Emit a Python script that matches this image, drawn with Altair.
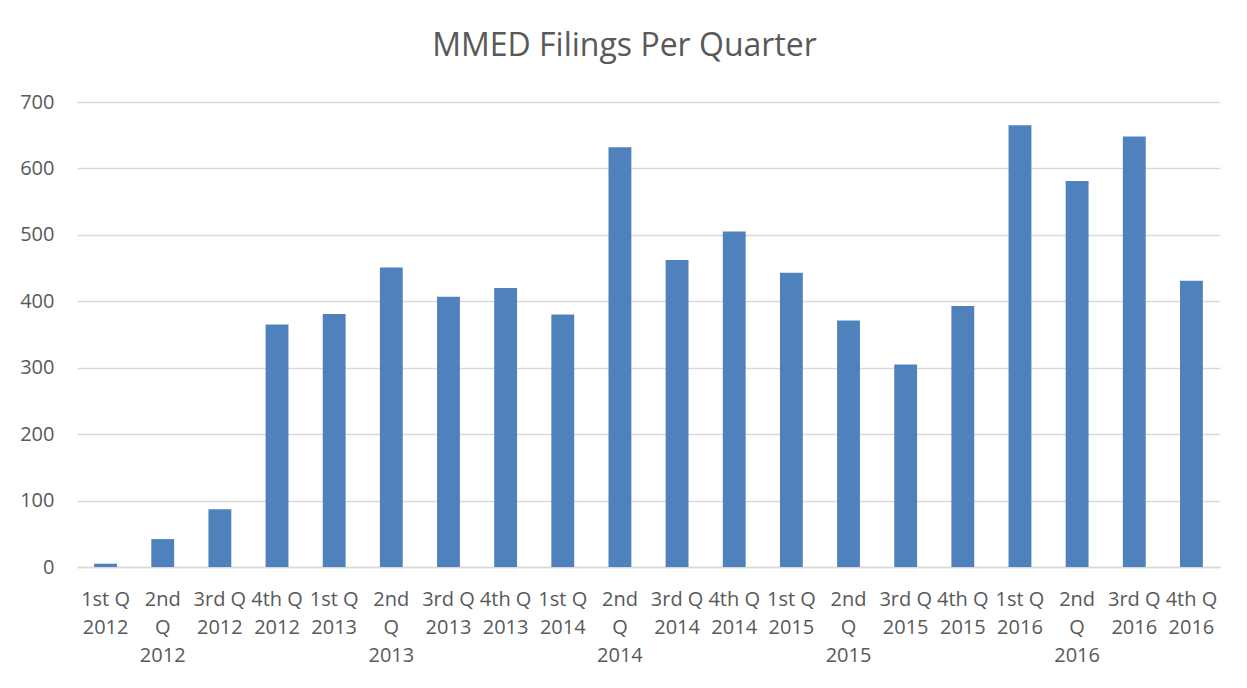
import altair as alt
import pandas as pd

quarters = ["1st Q 2012", "2nd Q 2012", "3rd Q 2012", "4th Q 2012",
            "1st Q 2013", "2nd Q 2013", "3rd Q 2013", "4th Q 2013",
            "1st Q 2014", "2nd Q 2014", "3rd Q 2014", "4th Q 2014",
            "1st Q 2015", "2nd Q 2015", "3rd Q 2015", "4th Q 2015",
            "1st Q 2016", "2nd Q 2016", "3rd Q 2016", "4th Q 2016"]
filings = [5, 42, 87, 365, 381, 451, 407, 420, 380, 632,
           462, 505, 443, 371, 305, 393, 665, 581, 648, 431]
y_ticks = [0, 100, 200, 300, 400, 500, 600, 700]

df = pd.DataFrame({"quarter": quarters, "filings": filings})

FONT = "Open Sans"
GREY = "#595959"

label_expr = ("indexof(datum.label, '2nd') == 0 ? split(datum.label, ' ') : "
              "[slice(datum.label, 0, 5), slice(datum.label, 6)]")

chart = alt.Chart(df).mark_bar(color="#4F81BD").encode(
    x=alt.X("quarter:N", sort=quarters, title=None,
            scale=alt.Scale(paddingInner=0.6, paddingOuter=0.3),
            axis=alt.Axis(labelAngle=0, labelExpr=label_expr, ticks=False,
                          domain=True, domainColor="#D9D9D9", domainWidth=1.5,
                          labelFont=FONT, labelFontSize=20, labelColor=GREY,
                          labelLineHeight=28, labelPadding=22,
                          labelBaseline="top")),
    y=alt.Y("filings:Q", title=None,
            scale=alt.Scale(domain=[0, 700], nice=False),
            axis=alt.Axis(values=y_ticks, ticks=False, domain=False,
                          gridColor="#D9D9D9", gridWidth=1.5,
                          labelFont=FONT, labelFontSize=20, labelColor=GREY,
                          labelPadding=23)),
).properties(
    width=1143, height=465,
    title=alt.TitleParams("MMED Filings Per Quarter", font=FONT, fontSize=32,
                          fontWeight="normal", color=GREY, offset=29, dx=-24,
                          anchor="middle"),
    autosize=alt.AutoSizeParams(type="none"),
    padding={"left": 69, "top": 94, "right": 19, "bottom": 105},
).configure(background="white").configure_view(strokeWidth=0, stroke=None)

chart.save("out.html", embed_options={"renderer": "svg", "actions": False})
